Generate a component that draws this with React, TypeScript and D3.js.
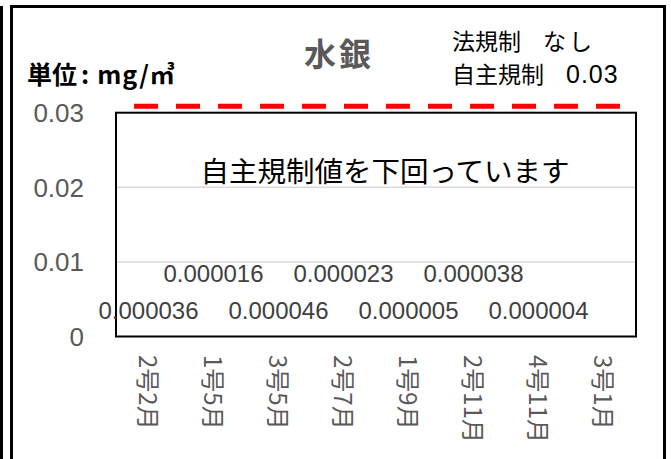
import React, { useEffect, useRef } from 'react';
import { select, scaleBand, scaleLinear } from 'd3';

const categories = ['2号2月', '1号5月', '3号5月', '2号7月', '1号9月', '2号11月', '4号11月', '3号1月'];
const values = [0.000036, 0.000016, 0.000046, 0.000023, 0.000005, 0.000038, 0.000004, null];
const labels = ['0.000036', '0.000016', '0.000046', '0.000023', '0.000005', '0.000038', '0.000004', ''];
const yTicks = [0, 0.01, 0.02, 0.03];
const limitValue = 0.03;

const W = 671;
const H = 459;
const JP = '"Noto Sans CJK JP", sans-serif';
const NUM = '"Liberation Sans", Arial, sans-serif';

const App: React.FC = () => {
  const svgRef = useRef<SVGSVGElement>(null);

  useEffect(() => {
    if (!svgRef.current) return;
    const svg = select(svgRef.current);
    svg.selectAll('*').remove();

    const plot = { left: 116, right: 636, top: 112.7, bottom: 336.5 };

    const x = scaleBand<string>().domain(categories).range([plot.left, plot.right]);
    const y = scaleLinear().domain([0, 0.03]).range([plot.bottom, plot.top]);

    svg.append('rect').attr('width', W).attr('height', H).attr('fill', '#fff');

    // outer frames
    svg.append('path')
      .attr('d', `M0,7.5 H3 M1.5,7.5 V${H}`)
      .attr('stroke', '#000').attr('stroke-width', 3).attr('fill', 'none');
    svg.append('path')
      .attr('d', `M11.5,${H + 5} V6.5 H664.5 V${H + 5}`)
      .attr('stroke', '#000').attr('stroke-width', 3).attr('fill', 'none');

    // gridlines
    svg.append('g').selectAll('line')
      .data(yTicks.filter(t => t > 0 && t < 0.03))
      .join('line')
      .attr('x1', plot.left).attr('x2', plot.right)
      .attr('y1', d => y(d)).attr('y2', d => y(d))
      .attr('stroke', '#d9d9d9').attr('stroke-width', 1.5);

    // bars (tiny)
    svg.append('g').selectAll('rect')
      .data(categories.map((c, i) => ({ c, v: values[i] })).filter(d => d.v != null))
      .join('rect')
      .attr('x', d => x(d.c)! + x.bandwidth() * 0.25)
      .attr('width', x.bandwidth() * 0.5)
      .attr('y', d => y(d.v as number))
      .attr('height', d => y(0) - y(d.v as number))
      .attr('fill', '#4472c4');

    // inner box
    svg.append('rect')
      .attr('x', plot.left).attr('y', plot.top)
      .attr('width', plot.right - plot.left).attr('height', plot.bottom - plot.top)
      .attr('fill', 'none').attr('stroke', '#000').attr('stroke-width', 2);

    // y tick labels
    svg.append('g').selectAll('text')
      .data(yTicks)
      .join('text')
      .attr('x', 84).attr('y', d => y(d))
      .attr('dy', '0.36em')
      .attr('text-anchor', 'end')
      .attr('font-family', NUM).attr('font-size', 26).attr('fill', '#595959')
      .text(d => (d === 0 ? '0' : String(d)));

    // x category labels, rotated
    svg.append('g').selectAll('text')
      .data(categories)
      .join('text')
      .attr('transform', d => `translate(${x(d)! + x.bandwidth() / 2},355) rotate(90)`)
      .attr('dy', '0.38em')
      .attr('font-family', JP).attr('font-size', 24).attr('fill', '#595959')
      .text(d => d);

    // data labels, alternating rows
    svg.append('g').selectAll('text')
      .data(categories.map((c, i) => ({ c, t: labels[i], i })).filter(d => d.t))
      .join('text')
      .attr('x', d => x(d.c)! + x.bandwidth() / 2)
      .attr('y', d => y(0) - (d.i % 2 === 0 ? 17.5 : 54.5))
      .attr('text-anchor', 'middle')
      .attr('font-family', NUM).attr('font-size', 24).attr('fill', '#404040')
      .text(d => d.t);

    // self-regulation limit line
    svg.append('line')
      .attr('x1', plot.left + 18).attr('x2', plot.right - 16)
      .attr('y1', y(limitValue) - 6.5).attr('y2', y(limitValue) - 6.5)
      .attr('stroke', '#ff0000').attr('stroke-width', 5)
      .attr('stroke-dasharray', '24 18');

    // title
    svg.append('text')
      .attr('x', 339).attr('y', 66)
      .attr('text-anchor', 'middle')
      .attr('font-family', JP).attr('font-size', 32).attr('font-weight', 'bold')
      .attr('letter-spacing', 3)
      .attr('fill', '#595959')
      .text('水銀');

    // unit
    const unit = svg.append('text')
      .attr('x', 27).attr('y', 84)
      .attr('font-family', JP).attr('font-size', 25).attr('font-weight', 'bold')
      .attr('fill', '#000');
    unit.append('tspan').text('単位');
    unit.append('tspan').attr('dx', 4).text(':');
    unit.append('tspan').attr('dx', 8).attr('letter-spacing', 1).text('mg/㎥');

    // regulation notes
    const law = svg.append('text')
      .attr('x', 452).attr('y', 50)
      .attr('font-family', JP).attr('font-size', 23).attr('fill', '#000');
    law.append('tspan').text('法規制');
    law.append('tspan').attr('dx', 22).attr('letter-spacing', 3).text('なし');
    const reg = svg.append('text')
      .attr('x', 452).attr('y', 83)
      .attr('font-family', JP).attr('font-size', 23).attr('fill', '#000');
    reg.append('tspan').text('自主規制');
    reg.append('tspan').attr('dx', 22).attr('font-family', NUM).attr('font-size', 25)
      .attr('letter-spacing', 1).text(String(limitValue));

    // note inside plot
    svg.append('text')
      .attr('x', 385).attr('y', 182)
      .attr('text-anchor', 'middle')
      .attr('font-family', JP).attr('font-size', 28.5).attr('fill', '#000')
      .text('自主規制値を下回っています');
  }, []);

  return (
    <svg
      ref={svgRef}
      width={W}
      height={H}
      style={{ position: 'absolute', left: 0, top: 0, display: 'block' }}
    />
  );
};

export default App;
